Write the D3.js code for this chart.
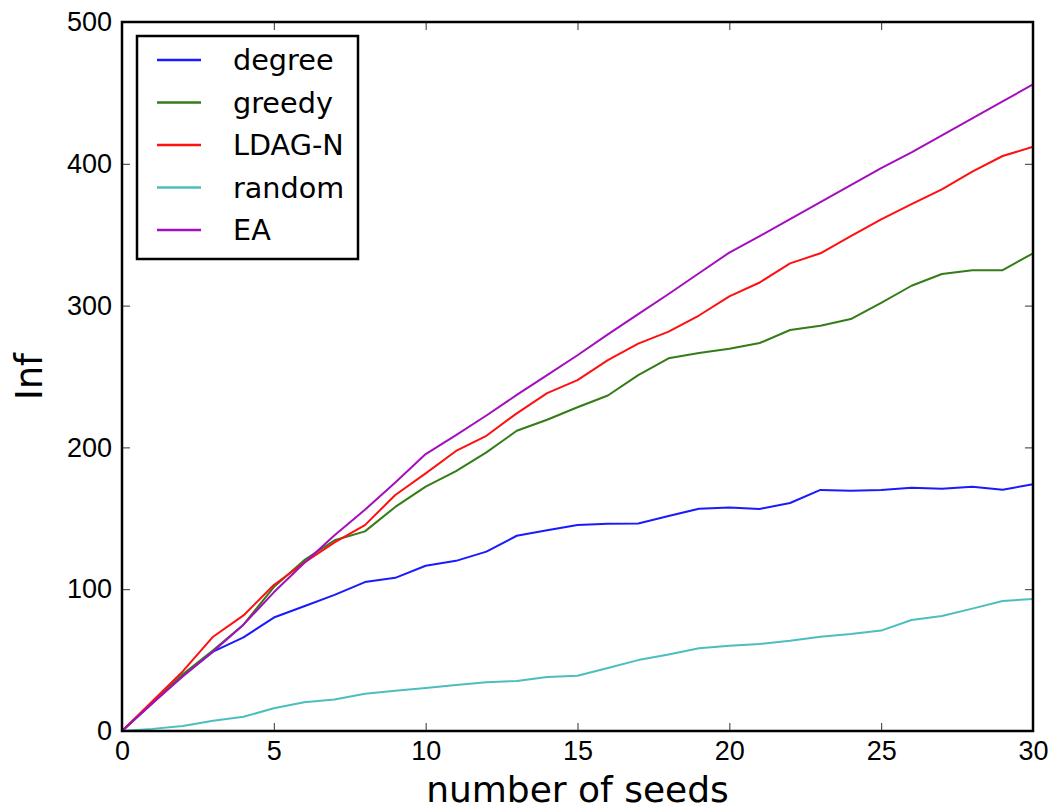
<!DOCTYPE html>
<html>
<head>
<meta charset="utf-8">
<script src="https://cdn.jsdelivr.net/npm/d3@7"></script>
<style>
    body { margin: 0; background: #fff; }
    svg { font-family: "DejaVu Sans", sans-serif; }
    .axis path { display: none; }
    .axis line { stroke: #333; stroke-width: 1; }
    .axis text { font-size: 27px; fill: #000; }
</style>
</head>
<body>
<svg id="chart" width="1057" height="810"></svg>
<script>
// seeds 0..30
const seeds = d3.range(0, 31);

const degree = [0, 19.5, 39, 56, 66, 80, 88, 96, 105, 108, 116.5, 120, 126.5, 137.7, 141.5, 145.3,
    146.2, 146.4, 151.6, 156.8, 157.7, 156.6, 160.8, 170, 169.5, 170, 171.6, 170.9, 172.3, 170.2, 174];
const greedy = [0, 20, 40, 57, 75, 101.5, 120.5, 134.5, 140.8, 158, 172.3, 183.2, 196.5, 211.7, 219.5, 228.3,
    236.6, 251, 262.8, 266.5, 269.5, 273.6, 282.8, 285.8, 290.5, 302, 314, 322.3, 325, 325, 336.9];
const ldagN = [0, 21, 42, 66.5, 81.5, 103, 118.7, 133, 145.2, 166.4, 181.7, 197.5, 208.2, 224, 238.3, 247.5,
    261.5, 273.2, 281.6, 293, 306.5, 316.3, 329.8, 336.9, 349, 360.8, 371.6, 382, 394.5, 405.5, 412];
const random = [0, 1.5, 3.6, 7.3, 10, 16, 20.3, 22.2, 26.2, 28.4, 30.3, 32.4, 34.3, 35.3, 38, 39,
    44.4, 50, 54, 58.3, 60.2, 61.4, 63.7, 66.5, 68.4, 70.8, 78.3, 81.1, 86.3, 91.7, 93.1];
const ea = [0, 19.5, 38.5, 56, 75, 97.8, 118.5, 138, 156, 175.2, 195.3, 208.7, 222.5, 237, 251, 265,
    279.7, 294, 308.2, 322.8, 337.4, 349, 361, 373, 385, 397, 408, 420, 432, 444, 456];

const seriesNames = ['degree', 'greedy', 'LDAG-N', 'random', 'EA'];
const seriesColors = ['#1a1aff', '#347c17', '#ff1010', '#4cbebe', '#a40fbd'];
const seriesValues = [degree, greedy, ldagN, random, ea];

const xTicks = [0, 5, 10, 15, 20, 25, 30];
const yTicks = [0, 100, 200, 300, 400, 500];

const margin = {left: 122, top: 22, right: 24, bottom: 79};
const width = 1057, height = 810;
const innerW = width - margin.left - margin.right;
const innerH = height - margin.top - margin.bottom;

const svg = d3.select('#chart');
const g = svg.append('g').attr('transform', `translate(${margin.left},${margin.top})`);

const x = d3.scaleLinear().domain([0, 30]).range([0, innerW]);
const y = d3.scaleLinear().domain([0, 500]).range([innerH, 0]);

// ticks point inward on all four sides
g.append('g').attr('class', 'axis')
    .attr('transform', `translate(0,${innerH})`)
    .call(d3.axisBottom(x).tickValues(xTicks).tickSize(-8).tickPadding(10));
g.append('g').attr('class', 'axis')
    .call(d3.axisTop(x).tickValues(xTicks).tickSize(-8).tickFormat(''));
g.append('g').attr('class', 'axis')
    .call(d3.axisLeft(y).tickValues(yTicks).tickSize(-8).tickPadding(10));
g.append('g').attr('class', 'axis')
    .attr('transform', `translate(${innerW},0)`)
    .call(d3.axisRight(y).tickValues(yTicks).tickSize(-8).tickFormat(''));

const line = d3.line()
    .x((d, i) => x(seeds[i]))
    .y(d => y(d));

seriesValues.forEach((vals, k) => {
    g.append('path')
        .datum(vals)
        .attr('fill', 'none')
        .attr('stroke', seriesColors[k])
        .attr('stroke-width', 2)
        .attr('stroke-linejoin', 'round')
        .attr('d', line);
});

// frame
g.append('rect')
    .attr('width', innerW)
    .attr('height', innerH)
    .attr('fill', 'none')
    .attr('stroke', '#000')
    .attr('stroke-width', 2.5);

// axis labels
svg.append('text')
    .attr('x', margin.left + innerW / 2)
    .attr('y', 802)
    .attr('text-anchor', 'middle')
    .style('font-size', '36px')
    .text('number of seeds');

svg.append('text')
    .attr('transform', `translate(42,${margin.top + innerH / 2}) rotate(-90)`)
    .attr('text-anchor', 'middle')
    .style('font-size', '36.5px')
    .text('Inf');

// legend
const legend = svg.append('g').attr('transform', 'translate(137,36)');
legend.append('rect')
    .attr('width', 221)
    .attr('height', 223)
    .attr('fill', '#fff')
    .attr('stroke', '#000')
    .attr('stroke-width', 2.5);

seriesNames.forEach((name, k) => {
    const ly = 24 + k * 42.5;
    legend.append('line')
        .attr('x1', 20).attr('x2', 64)
        .attr('y1', ly).attr('y2', ly)
        .attr('stroke', seriesColors[k])
        .attr('stroke-width', 2.5);
    legend.append('text')
        .attr('x', 96)
        .attr('y', ly)
        .attr('dy', '0.36em')
        .style('font-size', '28.7px')
        .text(name);
});
</script>
</body>
</html>
